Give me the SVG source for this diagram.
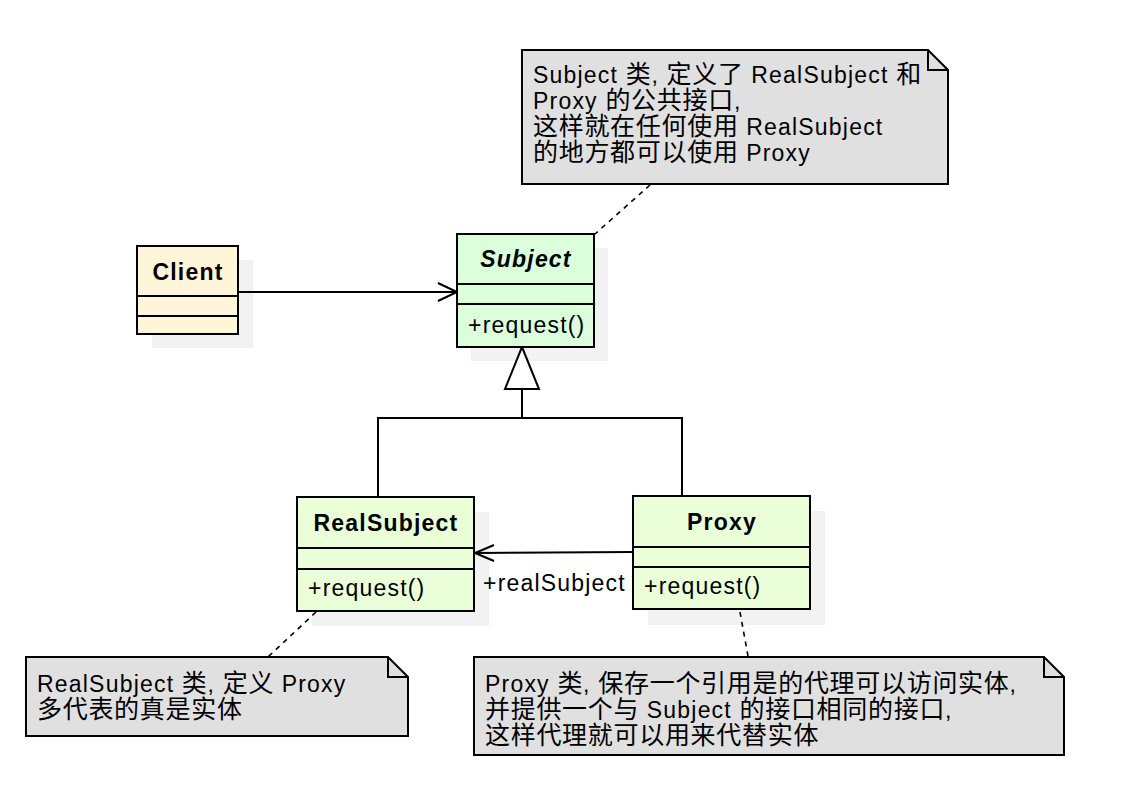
<svg xmlns="http://www.w3.org/2000/svg" width="1140" height="808" viewBox="0 0 1140 808">
<style>
text{font-family:"Liberation Sans","Noto Sans CJK SC",sans-serif;font-size:23px;letter-spacing:1.2px;fill:#000}
.k{font-size:25px;letter-spacing:0.7px}
.b{font-weight:bold}
.bi{font-weight:bold;font-style:italic}
.c{text-anchor:middle}
.box{stroke:#000;stroke-width:2}
.sh{fill:#f2f2f2;stroke:none}
.ln{stroke:#000;stroke-width:2;fill:none}
.dash{stroke:#000;stroke-width:1.6;fill:none;stroke-dasharray:5 5}
.note{fill:#e0e0e0;stroke:#000;stroke-width:2}
.cl{fill:#fff5d9}
.gs{fill:#dbfedb}
.gr{fill:#eafed8}
</style>
<rect width="1140" height="808" fill="#fff"/>
<g id="shadows">
<rect class="sh" x="152" y="260" width="101" height="88"/>
<rect class="sh" x="471" y="248" width="137" height="113"/>
<rect class="sh" x="312" y="512" width="177" height="114"/>
<rect class="sh" x="648" y="511" width="177" height="114"/>
</g>
<g id="connectors">
<line class="ln" x1="238" y1="292" x2="456" y2="292"/>
<polyline class="ln" points="438,283 457,292 438,301"/>
<polyline class="ln" points="522,389 522,418 378,418 378,497"/>
<polyline class="ln" points="522,418 682,418 682,496"/>
<polygon points="522,347 505,389 539,389" fill="#fff" stroke="#000" stroke-width="2"/>
<line class="ln" x1="633" y1="552" x2="475" y2="553"/>
<polyline class="ln" points="494,545 475,553 494,561"/>
<text x="483" y="591">+realSubject</text>
<line class="dash" x1="650" y1="185" x2="595" y2="234"/>
<line class="dash" x1="316" y1="612" x2="268" y2="657"/>
<line class="dash" x1="740" y1="612" x2="748" y2="656"/>
</g>
<g id="client">
<rect class="box cl" x="137" y="246" width="101" height="88"/>
<line class="box" x1="137" y1="296" x2="238" y2="296"/>
<line class="box" x1="137" y1="316" x2="238" y2="316"/>
<text class="b c" x="188" y="280">Client</text>
</g>
<g id="subject">
<rect class="box gs" x="457" y="234" width="137" height="113"/>
<line class="box" x1="457" y1="284" x2="594" y2="284"/>
<line class="box" x1="457" y1="304" x2="594" y2="304"/>
<text class="bi c" x="526" y="267">Subject</text>
<text x="468" y="333">+request()</text>
</g>
<g id="realsubject">
<rect class="box gr" x="297" y="497" width="177" height="114"/>
<line class="box" x1="297" y1="548" x2="474" y2="548"/>
<line class="box" x1="297" y1="569" x2="474" y2="569"/>
<text class="b c" x="386" y="531">RealSubject</text>
<text x="308" y="596">+request()</text>
</g>
<g id="proxy">
<rect class="box gr" x="633" y="496" width="177" height="113"/>
<line class="box" x1="633" y1="547" x2="810" y2="547"/>
<line class="box" x1="633" y1="567" x2="810" y2="567"/>
<text class="b c" x="722" y="530">Proxy</text>
<text x="644" y="594">+request()</text>
</g>
<g id="note-subject">
<polygon class="note" points="522,50 928,50 948,70 948,184 522,184"/>
<polyline class="ln" points="928,50 928,70 948,70"/>
<text x="533" y="83">Subject <tspan class="k">类</tspan>, <tspan class="k">定义了</tspan> RealSubject <tspan class="k">和</tspan></text>
<text x="533" y="109">Proxy <tspan class="k">的公共接口</tspan>,</text>
<text x="533" y="135"><tspan class="k">这样就在任何使用</tspan> RealSubject</text>
<text x="533" y="161"><tspan class="k">的地方都可以使用</tspan> Proxy</text>
</g>
<g id="note-realsubject">
<polygon class="note" points="26,657 388,657 408,677 408,736 26,736"/>
<polyline class="ln" points="388,657 388,677 408,677"/>
<text x="37" y="692">RealSubject <tspan class="k">类</tspan>, <tspan class="k">定义</tspan> Proxy</text>
<text x="37" y="718"><tspan class="k">多代表的真是实体</tspan></text>
</g>
<g id="note-proxy">
<polygon class="note" points="474,657 1044,657 1064,677 1064,755 474,755"/>
<polyline class="ln" points="1044,657 1044,677 1064,677"/>
<text x="485" y="692">Proxy <tspan class="k">类</tspan>, <tspan class="k">保存一个引用是的代理可以访问实体</tspan>,</text>
<text x="485" y="718"><tspan class="k">并提供一个与</tspan> Subject <tspan class="k">的接口相同的接口</tspan>,</text>
<text x="485" y="744"><tspan class="k">这样代理就可以用来代替实体</tspan></text>
</g>
</svg>
